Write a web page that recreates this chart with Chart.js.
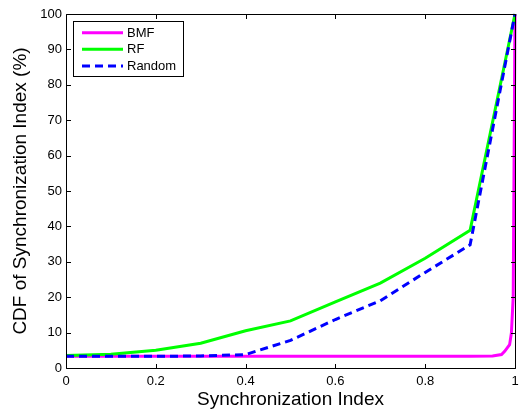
<!DOCTYPE html>
<html>
<head>
<meta charset="utf-8">
<script src="https://cdn.jsdelivr.net/npm/chart.js@4.4.1/dist/chart.umd.min.js"></script>
<style>
  html, body { margin: 0; padding: 0; background: #fff; }
  canvas { display: block; }
</style>
</head>
<body>
<canvas id="cdfChart" width="529" height="413"></canvas>
<script>
// Values
const seriesNames = ['BMF', 'RF', 'Random'];
const indexSteps = [0, 0.1, 0.2, 0.3, 0.4, 0.5, 0.6, 0.7, 0.8, 0.9, 1.0];
const rfCdf = [3.5, 3.9, 5.0, 7.0, 10.5, 13.3, 18.7, 24.0, 31.0, 38.9, 100];
const randomCdf = [3.3, 3.3, 3.3, 3.4, 3.8, 7.8, 13.7, 19.0, 27.0, 34.8, 100];
const bmfIndex = [0, 0.5, 0.9, 0.95, 0.97, 0.977, 0.988, 0.992, 0.996, 1.0];
const bmfCdf = [3.3, 3.3, 3.3, 3.4, 3.8, 4.7, 6.6, 9.9, 20, 100];
const xTicks = [0, 0.2, 0.4, 0.6, 0.8, 1];
const yTicks = [0, 10, 20, 30, 40, 50, 60, 70, 80, 90, 100];

const FONT = '"Liberation Sans", Arial, Helvetica, sans-serif';

function toPoints(xs, ys) {
    return xs.map((x, i) => ({ x: x, y: ys[i] }));
}

// Inward ticks on all four sides, plus box and legend (MATLAB look)
const matlabAxes = {
    id: 'matlabAxes',
    afterDatasetsDraw(chart) {
        const { ctx, chartArea: a, scales } = chart;
        const L = Math.round(a.left) + 0.5, R = Math.round(a.right) + 0.5;
        const T = Math.round(a.top) + 0.5, B = Math.round(a.bottom) + 0.5;
        ctx.save();
        ctx.strokeStyle = '#000';
        ctx.lineWidth = 1;
        ctx.beginPath();
        ctx.rect(L, T, R - L, B - T);
        xTicks.forEach(v => {
            const px = Math.round(scales.x.getPixelForValue(v)) + 0.5;
            ctx.moveTo(px, B); ctx.lineTo(px, B - 4.5);
            ctx.moveTo(px, T); ctx.lineTo(px, T + 4.5);
        });
        yTicks.forEach(v => {
            const py = Math.round(scales.y.getPixelForValue(v)) + 0.5;
            ctx.moveTo(L, py); ctx.lineTo(L + 4.5, py);
            ctx.moveTo(R, py); ctx.lineTo(R - 4.5, py);
        });
        ctx.stroke();

        // legend box
        ctx.fillStyle = '#fff';
        ctx.fillRect(73.5, 21.5, 110, 55);
        ctx.strokeRect(73.5, 21.5, 110, 55);
        ctx.font = '13px ' + FONT;
        ctx.textBaseline = 'middle';
        ctx.textAlign = 'left';
        const rows = [32.7, 49.3, 66];
        chart.data.datasets.forEach((ds, i) => {
            ctx.strokeStyle = ds.borderColor;
            ctx.lineWidth = 3;
            ctx.setLineDash(ds.borderDash || []);
            ctx.beginPath();
            ctx.moveTo(82, rows[i]);
            ctx.lineTo(123, rows[i]);
            ctx.stroke();
            ctx.setLineDash([]);
            ctx.fillStyle = '#000';
            ctx.fillText(ds.label, 127, rows[i] + 0.5);
        });
        ctx.restore();
    }
};

const ctx = document.getElementById('cdfChart').getContext('2d');
Chart.defaults.animation = false;

new Chart(ctx, {
    type: 'line',
    data: {
        datasets: [{
            label: seriesNames[0],
            data: toPoints(bmfIndex, bmfCdf),
            borderColor: '#ff00ff',
            borderWidth: 3,
            order: 3
        }, {
            label: seriesNames[1],
            data: toPoints(indexSteps, rfCdf),
            borderColor: '#00ff00',
            borderWidth: 3,
            order: 2
        }, {
            label: seriesNames[2],
            data: toPoints(indexSteps, randomCdf),
            borderColor: '#0000ff',
            borderWidth: 3,
            borderDash: [8, 5],
            order: 1
        }]
    },
    options: {
        responsive: false,
        clip: false,
        elements: {
            point: { radius: 0 },
            line: { tension: 0, borderCapStyle: 'butt', fill: false }
        },
        layout: { padding: { top: 14, right: 14, left: 0, bottom: 0 } },
        plugins: {
            legend: { display: false },
            tooltip: { enabled: false }
        },
        scales: {
            x: {
                type: 'linear',
                min: 0,
                max: 1,
                afterFit: scale => { scale.height = 45; },
                afterBuildTicks: scale => { scale.ticks = xTicks.map(v => ({ value: v })); },
                grid: { display: false, drawTicks: false },
                border: { display: false },
                ticks: {
                    color: '#000',
                    padding: 6,
                    maxRotation: 0,
                    font: { family: FONT, size: 13 },
                    callback: v => String(v)
                },
                title: {
                    display: true,
                    text: 'Synchronization Index',
                    color: '#000',
                    font: { family: FONT, size: 19 },
                    padding: { top: 0, bottom: 2 }
                }
            },
            y: {
                min: 0,
                max: 100,
                afterFit: scale => { scale.width = 66; },
                afterBuildTicks: scale => { scale.ticks = yTicks.map(v => ({ value: v })); },
                grid: { display: false, drawTicks: false },
                border: { display: false },
                ticks: {
                    color: '#000',
                    padding: 4,
                    font: { family: FONT, size: 13 }
                },
                title: {
                    display: true,
                    text: 'CDF of Synchronization Index (%)',
                    color: '#000',
                    font: { family: FONT, size: 19 },
                    padding: { top: 9, bottom: 0 }
                }
            }
        }
    },
    plugins: [matlabAxes]
});
</script>
</body>
</html>
